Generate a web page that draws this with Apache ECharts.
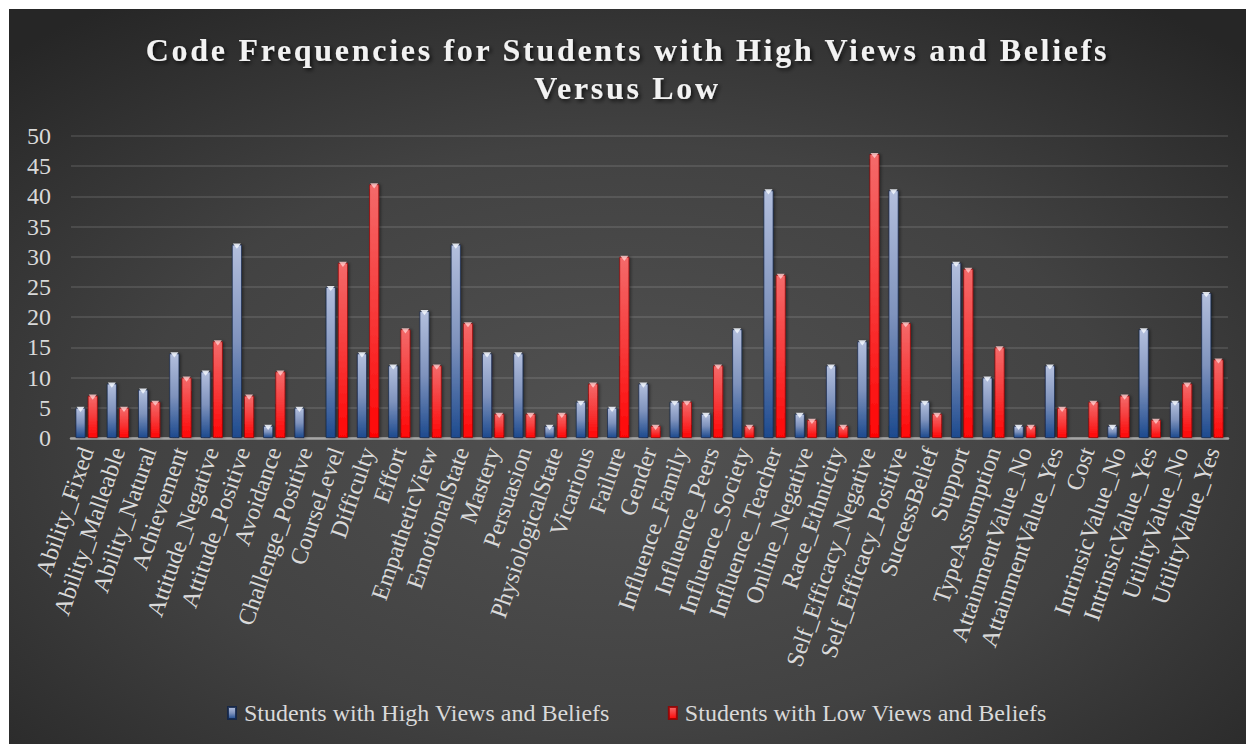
<!DOCTYPE html>
<html>
<head>
<meta charset="utf-8">
<script src="https://cdn.jsdelivr.net/npm/echarts@6/dist/echarts.min.js"></script>
<style>
  html, body { margin: 0; padding: 0; background: #ffffff; }
  #chart { position: absolute; left: 9px; top: 9px; width: 1237px; height: 735px; }
  /* expanded spacing for the bold title lines */
  #chart svg text[style*="bold"] { letter-spacing: 2.7px; }
</style>
</head>
<body>
<div id="chart"></div>
<script>
// Code categories along the x axis
const categories = [
  'Ability_Fixed', 'Ability_Malleable', 'Ability_Natural', 'Achievement',
  'Attitude_Negative', 'Attitude_Positive', 'Avoidance', 'Challenge_Positive',
  'CourseLevel', 'Difficulty', 'Effort', 'EmpatheticView', 'EmotionalState',
  'Mastery', 'Persuasion', 'PhysiologicalState', 'Vicarious', 'Failure',
  'Gender', 'Influence_Family', 'Influence_Peers', 'Influence_Society',
  'Influence_Teacher', 'Online_Negative', 'Race_Ethnicity',
  'Self_Efficacy_Negative', 'Self_Efficacy_Positive', 'SuccessBelief',
  'Support', 'TypeAssumption', 'AttainmentValue_No', 'AttainmentValue_Yes',
  'Cost', 'IntrinsicValue_No', 'IntrinsicValue_Yes', 'UtilityValue_No',
  'UtilityValue_Yes'
];

// Code frequencies per group
const highValues = [5, 9, 8, 14, 11, 32, 2, 5, 25, 14, 12, 21, 32, 14, 14, 2, 6, 5, 9, 6, 4, 18, 41, 4, 12, 16, 41, 6, 29, 10, 2, 12, 0, 2, 18, 6, 24];
const lowValues  = [7, 5, 6, 10, 16, 7, 11, 0, 29, 42, 18, 12, 19, 4, 4, 4, 9, 30, 2, 6, 12, 2, 27, 3, 2, 47, 19, 4, 28, 15, 2, 5, 6, 7, 3, 9, 13];

const seriesNames = ['Students with High Views and Beliefs', 'Students with Low Views and Beliefs'];
const titleText = 'Code Frequencies for Students with High Views and Beliefs\nVersus Low';
const yMin = 0, yMax = 50, yStep = 5;

const serif = "'Liberation Serif', 'Times New Roman', serif";
const labelColor = '#d9d9d9';

function vgrad(stops) {
  return new echarts.graphic.LinearGradient(0, 0, 0, 1, stops.map((c, i) => ({ offset: i / (stops.length - 1), color: c })));
}

const blueFill = vgrad(['#b3bfdd', '#7f93bd', '#1d4a8e']);
const redFill = vgrad(['#f46a6a', '#f73a3a', '#ff0505']);

// bevel caps only on non-zero bars
const capData = arr => arr.map(v => (v > 0 ? v : null));

const BAR_W = 10;
const BAR_GAP = '22%';

const chart = echarts.init(document.getElementById('chart'), null, { renderer: 'svg' });

chart.setOption({
  backgroundColor: new echarts.graphic.RadialGradient(0.5, 0.58, 0.72, [
    { offset: 0, color: '#525252' },
    { offset: 0.55, color: '#424242' },
    { offset: 1, color: '#262626' }
  ]),
  animation: false,
  title: {
    text: titleText,
    left: 'center',
    top: 17,
    textStyle: {
      fontFamily: serif,
      fontWeight: 'bold',
      fontSize: 32,
      lineHeight: 38,
      color: '#f2f2f2',
      textShadowColor: 'rgba(0,0,0,0.75)',
      textShadowBlur: 4,
      textShadowOffsetX: 2,
      textShadowOffsetY: 2
    }
  },
  legend: {
    data: seriesNames,
    left: 213,
    bottom: 14,
    icon: 'rect',
    itemWidth: 8,
    itemHeight: 12,
    itemGap: 58,
    textStyle: { fontFamily: serif, fontSize: 24, color: labelColor, padding: [0, 0, 0, 3] }
  },
  grid: { left: 62, right: 18, top: 127, bottom: 306, containLabel: false },
  xAxis: {
    type: 'category',
    data: categories,
    axisTick: { show: false },
    axisLine: { lineStyle: { color: '#a6a6a6', width: 2.5 } },
    axisLabel: {
      interval: 0,
      rotate: 71,
      margin: 10,
      fontFamily: serif,
      fontSize: 24,
      color: labelColor
    }
  },
  yAxis: {
    type: 'value',
    min: yMin,
    max: yMax,
    interval: yStep,
    axisLine: { show: false },
    axisTick: { show: false },
    splitLine: { lineStyle: { color: 'rgba(255,255,255,0.14)', width: 1.5 } },
    axisLabel: { margin: 20, fontFamily: serif, fontSize: 24, color: labelColor }
  },
  series: [
    {
      name: seriesNames[0],
      type: 'bar',
      data: highValues,
      barWidth: BAR_W,
      barGap: BAR_GAP,
      itemStyle: {
        color: blueFill,
        borderColor: 'rgba(18,36,72,0.85)',
        borderWidth: 0.8,
        shadowColor: 'rgba(0,0,0,0.45)',
        shadowBlur: 3,
        shadowOffsetX: 1.5
      }
    },
    {
      name: seriesNames[1],
      type: 'bar',
      data: lowValues,
      barWidth: BAR_W,
      barGap: BAR_GAP,
      itemStyle: {
        color: redFill,
        borderColor: 'rgba(150,0,0,0.85)',
        borderWidth: 0.8,
        shadowColor: 'rgba(0,0,0,0.45)',
        shadowBlur: 3,
        shadowOffsetX: 1.5
      }
    },
    {
      name: 'capHigh',
      type: 'pictorialBar',
      data: capData(highValues),
      barWidth: BAR_W,
      barGap: BAR_GAP,
      symbol: 'path://M0,0 L10,0 L5,6 Z',
      symbolSize: [8, 5],
      symbolPosition: 'end',
      symbolOffset: [0, -1],
      itemStyle: { color: 'rgba(240,244,252,0.9)' },
      silent: true,
      z: 5
    },
    {
      name: 'capLow',
      type: 'pictorialBar',
      data: capData(lowValues),
      barWidth: BAR_W,
      barGap: BAR_GAP,
      symbol: 'path://M0,0 L10,0 L5,6 Z',
      symbolSize: [8, 5],
      symbolPosition: 'end',
      symbolOffset: [0, -1],
      itemStyle: { color: 'rgba(255,200,200,0.85)' },
      silent: true,
      z: 5
    }
  ]
});
</script>
</body>
</html>
